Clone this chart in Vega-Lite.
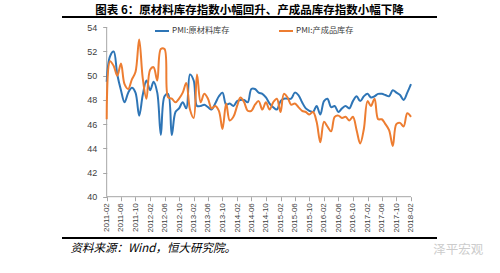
{
  "$schema": "https://vega.github.io/schema/vega-lite/v6.json",
  "autosize": {"type": "none"},
  "width": 375,
  "height": 221,
  "padding": {"left": 62, "top": 17, "right": 63, "bottom": 35},
  "background": "white",
  "title": {"text": "图表 6：原材料库存指数小幅回升、产成品库存指数小幅下降", "anchor": "middle", "frame": "group", "font": "Noto Sans CJK SC", "fontSize": 11.5, "fontWeight": "bold", "color": "#000000", "offset": 0},
  "config": {"view": {"stroke": null}, "font": "Liberation Sans"},
  "resolve": {"axis": {"x": "independent", "y": "independent"}},
  "datasets": {
    "pmi": [
      {"month":"2011-02","series":"PMI:原材料库存","value":49.5},{"month":"2011-03","series":"PMI:原材料库存","value":51.6},{"month":"2011-04","series":"PMI:原材料库存","value":52.0},{"month":"2011-05","series":"PMI:原材料库存","value":50.1},{"month":"2011-06","series":"PMI:原材料库存","value":48.8},{"month":"2011-07","series":"PMI:原材料库存","value":47.8},{"month":"2011-08","series":"PMI:原材料库存","value":48.6},{"month":"2011-09","series":"PMI:原材料库存","value":49.0},{"month":"2011-10","series":"PMI:原材料库存","value":48.6},{"month":"2011-11","series":"PMI:原材料库存","value":46.7},{"month":"2011-12","series":"PMI:原材料库存","value":48.4},
      {"month":"2012-01","series":"PMI:原材料库存","value":49.6},{"month":"2012-02","series":"PMI:原材料库存","value":48.8},{"month":"2012-03","series":"PMI:原材料库存","value":49.5},{"month":"2012-04","series":"PMI:原材料库存","value":48.6},{"month":"2012-05","series":"PMI:原材料库存","value":45.1},{"month":"2012-06","series":"PMI:原材料库存","value":48.3},{"month":"2012-07","series":"PMI:原材料库存","value":48.5},{"month":"2012-08","series":"PMI:原材料库存","value":45.1},{"month":"2012-09","series":"PMI:原材料库存","value":47.0},{"month":"2012-10","series":"PMI:原材料库存","value":47.3},{"month":"2012-11","series":"PMI:原材料库存","value":47.8},{"month":"2012-12","series":"PMI:原材料库存","value":47.3},
      {"month":"2013-01","series":"PMI:原材料库存","value":50.1},{"month":"2013-02","series":"PMI:原材料库存","value":49.6},{"month":"2013-03","series":"PMI:原材料库存","value":47.5},{"month":"2013-04","series":"PMI:原材料库存","value":47.5},{"month":"2013-05","series":"PMI:原材料库存","value":47.6},{"month":"2013-06","series":"PMI:原材料库存","value":47.4},{"month":"2013-07","series":"PMI:原材料库存","value":47.2},{"month":"2013-08","series":"PMI:原材料库存","value":47.7},{"month":"2013-09","series":"PMI:原材料库存","value":48.3},{"month":"2013-10","series":"PMI:原材料库存","value":48.6},{"month":"2013-11","series":"PMI:原材料库存","value":47.6},{"month":"2013-12","series":"PMI:原材料库存","value":47.7},
      {"month":"2014-01","series":"PMI:原材料库存","value":47.5},{"month":"2014-02","series":"PMI:原材料库存","value":47.9},{"month":"2014-03","series":"PMI:原材料库存","value":48.0},{"month":"2014-04","series":"PMI:原材料库存","value":48.0},{"month":"2014-05","series":"PMI:原材料库存","value":47.8},{"month":"2014-06","series":"PMI:原材料库存","value":48.9},{"month":"2014-07","series":"PMI:原材料库存","value":48.9},{"month":"2014-08","series":"PMI:原材料库存","value":48.6},{"month":"2014-09","series":"PMI:原材料库存","value":48.5},{"month":"2014-10","series":"PMI:原材料库存","value":48.2},{"month":"2014-11","series":"PMI:原材料库存","value":47.7},{"month":"2014-12","series":"PMI:原材料库存","value":47.4},
      {"month":"2015-01","series":"PMI:原材料库存","value":47.2},{"month":"2015-02","series":"PMI:原材料库存","value":47.9},{"month":"2015-03","series":"PMI:原材料库存","value":48.1},{"month":"2015-04","series":"PMI:原材料库存","value":48.1},{"month":"2015-05","series":"PMI:原材料库存","value":48.1},{"month":"2015-06","series":"PMI:原材料库存","value":48.6},{"month":"2015-07","series":"PMI:原材料库存","value":48.4},{"month":"2015-08","series":"PMI:原材料库存","value":47.8},{"month":"2015-09","series":"PMI:原材料库存","value":47.3},{"month":"2015-10","series":"PMI:原材料库存","value":47.1},{"month":"2015-11","series":"PMI:原材料库存","value":47.0},{"month":"2015-12","series":"PMI:原材料库存","value":47.5},
      {"month":"2016-01","series":"PMI:原材料库存","value":46.8},{"month":"2016-02","series":"PMI:原材料库存","value":47.9},{"month":"2016-03","series":"PMI:原材料库存","value":48.1},{"month":"2016-04","series":"PMI:原材料库存","value":47.4},{"month":"2016-05","series":"PMI:原材料库存","value":47.5},{"month":"2016-06","series":"PMI:原材料库存","value":47.0},{"month":"2016-07","series":"PMI:原材料库存","value":47.3},{"month":"2016-08","series":"PMI:原材料库存","value":47.5},{"month":"2016-09","series":"PMI:原材料库存","value":47.3},{"month":"2016-10","series":"PMI:原材料库存","value":47.9},{"month":"2016-11","series":"PMI:原材料库存","value":48.3},{"month":"2016-12","series":"PMI:原材料库存","value":47.9},
      {"month":"2017-01","series":"PMI:原材料库存","value":48.3},{"month":"2017-02","series":"PMI:原材料库存","value":48.5},{"month":"2017-03","series":"PMI:原材料库存","value":48.2},{"month":"2017-04","series":"PMI:原材料库存","value":48.3},{"month":"2017-05","series":"PMI:原材料库存","value":48.5},{"month":"2017-06","series":"PMI:原材料库存","value":48.5},{"month":"2017-07","series":"PMI:原材料库存","value":48.4},{"month":"2017-08","series":"PMI:原材料库存","value":48.3},{"month":"2017-09","series":"PMI:原材料库存","value":48.8},{"month":"2017-10","series":"PMI:原材料库存","value":48.6},{"month":"2017-11","series":"PMI:原材料库存","value":48.4},{"month":"2017-12","series":"PMI:原材料库存","value":48.0},
      {"month":"2018-01","series":"PMI:原材料库存","value":48.6},{"month":"2018-02","series":"PMI:原材料库存","value":49.3},
      {"month":"2011-02","series":"PMI:产成品库存","value":46.4},{"month":"2011-03","series":"PMI:产成品库存","value":51.2},{"month":"2011-04","series":"PMI:产成品库存","value":50.8},{"month":"2011-05","series":"PMI:产成品库存","value":50.0},{"month":"2011-06","series":"PMI:产成品库存","value":51.0},{"month":"2011-07","series":"PMI:产成品库存","value":49.3},{"month":"2011-08","series":"PMI:产成品库存","value":48.9},{"month":"2011-09","series":"PMI:产成品库存","value":49.7},{"month":"2011-10","series":"PMI:产成品库存","value":50.3},{"month":"2011-11","series":"PMI:产成品库存","value":53.0},{"month":"2011-12","series":"PMI:产成品库存","value":49.8},
      {"month":"2012-01","series":"PMI:产成品库存","value":48.1},{"month":"2012-02","series":"PMI:产成品库存","value":50.5},{"month":"2012-03","series":"PMI:产成品库存","value":50.7},{"month":"2012-04","series":"PMI:产成品库存","value":49.6},{"month":"2012-05","series":"PMI:产成品库存","value":52.2},{"month":"2012-06","series":"PMI:产成品库存","value":52.2},{"month":"2012-07","series":"PMI:产成品库存","value":48.2},{"month":"2012-08","series":"PMI:产成品库存","value":48.1},{"month":"2012-09","series":"PMI:产成品库存","value":47.8},{"month":"2012-10","series":"PMI:产成品库存","value":48.1},{"month":"2012-11","series":"PMI:产成品库存","value":48.6},{"month":"2012-12","series":"PMI:产成品库存","value":49.4},
      {"month":"2013-01","series":"PMI:产成品库存","value":47.2},{"month":"2013-02","series":"PMI:产成品库存","value":46.5},{"month":"2013-03","series":"PMI:产成品库存","value":50.1},{"month":"2013-04","series":"PMI:产成品库存","value":47.8},{"month":"2013-05","series":"PMI:产成品库存","value":48.5},{"month":"2013-06","series":"PMI:产成品库存","value":48.1},{"month":"2013-07","series":"PMI:产成品库存","value":47.3},{"month":"2013-08","series":"PMI:产成品库存","value":47.5},{"month":"2013-09","series":"PMI:产成品库存","value":47.1},{"month":"2013-10","series":"PMI:产成品库存","value":45.6},{"month":"2013-11","series":"PMI:产成品库存","value":47.7},{"month":"2013-12","series":"PMI:产成品库存","value":46.3},
      {"month":"2014-01","series":"PMI:产成品库存","value":46.6},{"month":"2014-02","series":"PMI:产成品库存","value":47.5},{"month":"2014-03","series":"PMI:产成品库存","value":48.2},{"month":"2014-04","series":"PMI:产成品库存","value":47.8},{"month":"2014-05","series":"PMI:产成品库存","value":47.1},{"month":"2014-06","series":"PMI:产成品库存","value":47.1},{"month":"2014-07","series":"PMI:产成品库存","value":47.6},{"month":"2014-08","series":"PMI:产成品库存","value":47.9},{"month":"2014-09","series":"PMI:产成品库存","value":47.2},{"month":"2014-10","series":"PMI:产成品库存","value":47.8},{"month":"2014-11","series":"PMI:产成品库存","value":47.2},{"month":"2014-12","series":"PMI:产成品库存","value":47.8},
      {"month":"2015-01","series":"PMI:产成品库存","value":48.1},{"month":"2015-02","series":"PMI:产成品库存","value":47.0},{"month":"2015-03","series":"PMI:产成品库存","value":48.5},{"month":"2015-04","series":"PMI:产成品库存","value":48.2},{"month":"2015-05","series":"PMI:产成品库存","value":47.6},{"month":"2015-06","series":"PMI:产成品库存","value":47.7},{"month":"2015-07","series":"PMI:产成品库存","value":47.4},{"month":"2015-08","series":"PMI:产成品库存","value":47.1},{"month":"2015-09","series":"PMI:产成品库存","value":47.0},{"month":"2015-10","series":"PMI:产成品库存","value":46.8},{"month":"2015-11","series":"PMI:产成品库存","value":47.0},{"month":"2015-12","series":"PMI:产成品库存","value":46.2},
      {"month":"2016-01","series":"PMI:产成品库存","value":44.5},{"month":"2016-02","series":"PMI:产成品库存","value":46.2},{"month":"2016-03","series":"PMI:产成品库存","value":45.8},{"month":"2016-04","series":"PMI:产成品库存","value":45.4},{"month":"2016-05","series":"PMI:产成品库存","value":46.6},{"month":"2016-06","series":"PMI:产成品库存","value":46.7},{"month":"2016-07","series":"PMI:产成品库存","value":46.5},{"month":"2016-08","series":"PMI:产成品库存","value":46.6},{"month":"2016-09","series":"PMI:产成品库存","value":46.3},{"month":"2016-10","series":"PMI:产成品库存","value":46.6},{"month":"2016-11","series":"PMI:产成品库存","value":45.5},{"month":"2016-12","series":"PMI:产成品库存","value":44.4},
      {"month":"2017-01","series":"PMI:产成品库存","value":45.6},{"month":"2017-02","series":"PMI:产成品库存","value":47.9},{"month":"2017-03","series":"PMI:产成品库存","value":47.5},{"month":"2017-04","series":"PMI:产成品库存","value":48.1},{"month":"2017-05","series":"PMI:产成品库存","value":46.4},{"month":"2017-06","series":"PMI:产成品库存","value":46.4},{"month":"2017-07","series":"PMI:产成品库存","value":46.0},{"month":"2017-08","series":"PMI:产成品库存","value":45.5},{"month":"2017-09","series":"PMI:产成品库存","value":44.2},{"month":"2017-10","series":"PMI:产成品库存","value":46.0},{"month":"2017-11","series":"PMI:产成品库存","value":46.1},{"month":"2017-12","series":"PMI:产成品库存","value":45.8},
      {"month":"2018-01","series":"PMI:产成品库存","value":46.9},{"month":"2018-02","series":"PMI:产成品库存","value":46.6}
    ],
    "one": [{}]
  },
  "layer": [
    {
      "data": {"name": "one"},
      "mark": {"type": "rule", "color": "#000000", "strokeWidth": 2},
      "encoding": {"y": {"datum": 54.851, "type": "quantitative", "axis": null}}
    },
    {
      "data": {"name": "one"},
      "mark": {"type": "rule", "color": "#000000", "strokeWidth": 2},
      "encoding": {"y": {"datum": 36.587, "type": "quantitative", "axis": null}}
    },
    {
      "data": {"name": "one"},
      "mark": {"type": "rule", "color": "#a6a6a6", "strokeWidth": 1},
      "encoding": {
        "x": {"datum": {"year": 2011, "month": 2, "date": 1, "utc": true}, "type": "temporal", "axis": null},
        "y": {"datum": 54, "type": "quantitative", "axis": null},
        "y2": {"datum": 40}
      }
    },
    {
      "data": {"name": "one"},
      "mark": {"type": "rule", "color": "#a6a6a6", "strokeWidth": 1},
      "encoding": {
        "x": {"datum": {"year": 2011, "month": 2, "date": 1, "utc": true}, "type": "temporal", "axis": null},
        "x2": {"datum": {"year": 2018, "month": 2, "date": 1, "utc": true}},
        "y": {"datum": 40, "type": "quantitative", "axis": null}
      }
    },
    {
      "data": {"name": "pmi"},
      "mark": {"type": "line", "interpolate": "catmull-rom", "strokeWidth": 2},
      "encoding": {
        "x": {
          "field": "month", "type": "temporal",
          "scale": {"type": "utc", "domain": [{"year": 2010, "month": 1, "date": 21, "hours": 14, "utc": true}, {"year": 2018, "month": 9, "date": 7, "hours": 12, "utc": true}], "nice": false},
          "axis": {
            "values": [
              {"year":2011,"month":2,"date":1,"utc":true},{"year":2011,"month":6,"date":1,"utc":true},{"year":2011,"month":10,"date":1,"utc":true},
              {"year":2012,"month":2,"date":1,"utc":true},{"year":2012,"month":6,"date":1,"utc":true},{"year":2012,"month":10,"date":1,"utc":true},
              {"year":2013,"month":2,"date":1,"utc":true},{"year":2013,"month":6,"date":1,"utc":true},{"year":2013,"month":10,"date":1,"utc":true},
              {"year":2014,"month":2,"date":1,"utc":true},{"year":2014,"month":6,"date":1,"utc":true},{"year":2014,"month":10,"date":1,"utc":true},
              {"year":2015,"month":2,"date":1,"utc":true},{"year":2015,"month":6,"date":1,"utc":true},{"year":2015,"month":10,"date":1,"utc":true},
              {"year":2016,"month":2,"date":1,"utc":true},{"year":2016,"month":6,"date":1,"utc":true},{"year":2016,"month":10,"date":1,"utc":true},
              {"year":2017,"month":2,"date":1,"utc":true},{"year":2017,"month":6,"date":1,"utc":true},{"year":2017,"month":10,"date":1,"utc":true},
              {"year":2018,"month":2,"date":1,"utc":true}
            ],
            "format": "%Y-%m",
            "labelAngle": 270, "labelFontSize": 8, "labelColor": "#404040", "labelPadding": 2, "labelOverlap": false, "labelFlush": false,
            "tickColor": "#a6a6a6", "tickSize": 4, "domain": false, "grid": false, "offset": -41.3,
            "title": "资料来源：Wind，恒大研究院。",
            "titleX": 8, "titleY": 52, "titleAlign": "left", "titleAnchor": "start", "titleBaseline": "middle",
            "titleFont": "Noto Sans CJK SC", "titleFontStyle": "italic", "titleFontWeight": "normal", "titleFontSize": 11.5, "titleColor": "#000000"
          }
        },
        "y": {
          "field": "value", "type": "quantitative",
          "scale": {"domain": [36.587, 54.851], "nice": false, "zero": false},
          "axis": {
            "values": [40, 42, 44, 46, 48, 50, 52, 54], "labelOverlap": false,
            "offset": -44.7, "domain": false, "grid": false, "tickSize": 4, "tickColor": "#a6a6a6",
            "labelFontSize": 9, "labelColor": "#404040", "labelPadding": 6,
            "title": "泽平宏观", "titleAngle": 0, "titleX": 326, "titleY": 232, "titleAlign": "left", "titleBaseline": "middle",
            "titleColor": "#cccccc", "titleFontSize": 12.5, "titleFontWeight": "normal", "titleFont": "Noto Sans CJK SC"
          }
        },
        "color": {
          "field": "series", "type": "nominal",
          "scale": {"domain": ["PMI:原材料库存", "PMI:产成品库存"], "range": ["#2e75b6", "#ed7d31"]},
          "legend": {
            "orient": "none", "legendX": 92, "legendY": 6, "direction": "horizontal", "title": null,
            "symbolType": "stroke", "symbolSize": 196, "symbolStrokeWidth": 2,
            "labelFontSize": 8.2, "labelColor": "#404040", "labelFont": "Noto Sans CJK SC",
            "columnPadding": 45, "labelOffset": 2
          }
        }
      }
    }
  ]
}
